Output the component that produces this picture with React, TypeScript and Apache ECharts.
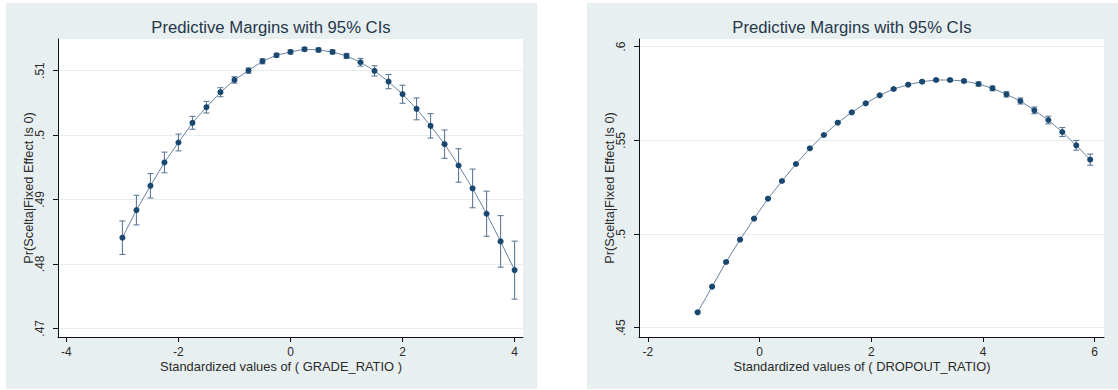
import React, { useEffect, useRef } from "react";
import * as echarts from "echarts";

// ---------- data ----------
const titleText = "Predictive Margins with 95% CIs";
const yAxisTitle = "Pr(Scelta|Fixed Effect Is 0)";
const gradeAxisTitle = "Standardized values of ( GRADE_RATIO )";
const dropAxisTitle = "Standardized values of ( DROPOUT_RATIO)";

const gradeX = [-3, -2.75, -2.5, -2.25, -2, -1.75, -1.5, -1.25, -1, -0.75, -0.5, -0.25, 0, 0.25, 0.5, 0.75, 1, 1.25, 1.5, 1.75, 2, 2.25, 2.5, 2.75, 3, 3.25, 3.5, 3.75, 4];
const gradeY = [0.48406, 0.48835, 0.49212, 0.49574, 0.49884, 0.50189, 0.50432, 0.50664, 0.50855, 0.51, 0.51145, 0.51238, 0.51289, 0.51331, 0.5132, 0.51289, 0.51227, 0.51129, 0.50995, 0.50829, 0.50633, 0.50406, 0.50142, 0.49858, 0.49527, 0.49171, 0.48778, 0.48349, 0.47903];
const gradeLo = [0.48146, 0.48605, 0.49022, 0.49414, 0.49754, 0.50089, 0.50342, 0.50594, 0.50805, 0.5096, 0.51105, 0.51208, 0.51259, 0.51301, 0.5129, 0.51259, 0.51187, 0.51069, 0.50915, 0.50719, 0.50493, 0.50236, 0.49952, 0.49638, 0.49267, 0.48871, 0.48428, 0.47949, 0.47453];
const gradeHi = [0.48666, 0.49065, 0.49402, 0.49734, 0.50014, 0.50289, 0.50522, 0.50734, 0.50905, 0.5104, 0.51185, 0.51268, 0.51319, 0.51361, 0.5135, 0.51319, 0.51267, 0.51189, 0.51075, 0.50939, 0.50773, 0.50576, 0.50332, 0.50078, 0.49787, 0.49471, 0.49128, 0.48749, 0.48353];

const dropX = [-1.11, -0.85, -0.6, -0.35, -0.1, 0.15, 0.4, 0.65, 0.9, 1.15, 1.4, 1.65, 1.9, 2.15, 2.4, 2.66, 2.91, 3.16, 3.41, 3.66, 3.92, 4.17, 4.42, 4.67, 4.92, 5.17, 5.42, 5.67, 5.92];
const dropY = [0.45819, 0.47189, 0.48505, 0.49698, 0.50819, 0.51886, 0.52829, 0.53737, 0.54573, 0.55285, 0.55943, 0.56495, 0.56975, 0.57402, 0.5774, 0.57972, 0.58132, 0.58221, 0.58221, 0.58167, 0.58007, 0.57776, 0.57456, 0.571, 0.56601, 0.56085, 0.55445, 0.54733, 0.53968];
const dropLo = [0.45759, 0.47139, 0.48455, 0.49658, 0.50779, 0.51856, 0.52799, 0.53707, 0.54543, 0.55255, 0.55913, 0.56465, 0.56935, 0.57362, 0.5769, 0.57922, 0.58072, 0.58151, 0.58141, 0.58077, 0.57897, 0.57656, 0.57316, 0.5694, 0.56421, 0.55885, 0.55205, 0.54473, 0.53668];
const dropHi = [0.45879, 0.47239, 0.48555, 0.49738, 0.50859, 0.51916, 0.52859, 0.53767, 0.54603, 0.55315, 0.55973, 0.56525, 0.57015, 0.57442, 0.5779, 0.58022, 0.58192, 0.58291, 0.58301, 0.58257, 0.58117, 0.57896, 0.57596, 0.5726, 0.56781, 0.56285, 0.55685, 0.54993, 0.54268];

const gradeXTicks = [-4, -2, 0, 2, 4];
const gradeYTicks = [0.47, 0.48, 0.49, 0.5, 0.51];
const dropXTicks = [-2, 0, 2, 4, 6];
const dropYTicks = [0.45, 0.5, 0.55, 0.6];

// ---------- styling ----------
const FONT = "'Liberation Sans', Arial, Helvetica, sans-serif";
const PANEL_BG = "#e8eff1";
const GRID_LINE = "#e6eef0";
const NAVY = "#1a476f";
const LINE_C = "#6a84a0";
const CI_C = "#5f7b98";
const TEXT_C = "#2b2b2b";
const TITLE_C = "#26374a";

const statFmt = (v: number) => String(Number(v.toFixed(2))).replace(/^0\./, ".").replace(/^-0\./, "-.");

function errorBarRender(params: any, api: any) {
  const x = api.value(0);
  const lo = api.value(1);
  const hi = api.value(2);
  const p1 = api.coord([x, hi]);
  const p2 = api.coord([x, lo]);
  const cw = 3;
  const style = { stroke: CI_C, lineWidth: 1.1, fill: "none" };
  return {
    type: "group",
    children: [
      { type: "line", shape: { x1: p1[0], y1: p1[1], x2: p2[0], y2: p2[1] }, style },
      { type: "line", shape: { x1: p1[0] - cw, y1: p1[1], x2: p1[0] + cw, y2: p1[1] }, style },
      { type: "line", shape: { x1: p2[0] - cw, y1: p2[1], x2: p2[0] + cw, y2: p2[1] }, style },
    ],
  };
}

function xAxisCfg(gridIndex: number, min: number, max: number, ticks: number[]) {
  return {
    type: "value",
    gridIndex,
    min,
    max,
    axisLine: { show: true, onZero: false, lineStyle: { color: "#111", width: 1 } },
    axisTick: { show: true, customValues: ticks, length: 5, inside: false, lineStyle: { color: "#111", width: 1 } },
    axisLabel: { show: true, customValues: ticks, margin: 9, color: TEXT_C, fontSize: 12, fontFamily: FONT, formatter: statFmt },
    splitLine: { show: false },
  };
}

function yAxisCfg(gridIndex: number, min: number, max: number, ticks: number[]) {
  return {
    type: "value",
    gridIndex,
    min,
    max,
    axisLine: { show: true, onZero: false, lineStyle: { color: "#111", width: 1 } },
    axisTick: { show: true, customValues: ticks, length: 5, inside: false, lineStyle: { color: "#111", width: 1 } },
    axisLabel: { show: true, customValues: ticks, rotate: 90, margin: 12, color: TEXT_C, fontSize: 12, fontFamily: FONT, formatter: statFmt },
    splitLine: { show: true, lineStyle: { color: GRID_LINE, width: 1 } },
  };
}

export default function App() {
  const ref = useRef<HTMLDivElement>(null);

  useEffect(() => {
    if (!ref.current) return;
    const chart = echarts.init(ref.current, null, { renderer: "svg" });

    const gradePts = gradeX.map((x, i) => [x, gradeY[i]]);
    const gradeCI = gradeX.map((x, i) => [x, gradeLo[i], gradeHi[i]]);
    const dropPts = dropX.map((x, i) => [x, dropY[i]]);
    const dropCI = dropX.map((x, i) => [x, dropLo[i], dropHi[i]]);

    const textStyle = (size: number, color: string) => ({
      font: `${size}px ${FONT}`,
      fill: color,
      textAlign: "center",
      textVerticalAlign: "middle",
      verticalAlign: "middle",
    });

    chart.setOption({
      animation: false,
      backgroundColor: "#ffffff",
      grid: [
        { left: 58, top: 39, width: 465, height: 298, show: true, backgroundColor: "#ffffff", borderWidth: 0 },
        { left: 639, top: 39, width: 465, height: 298, show: true, backgroundColor: "#ffffff", borderWidth: 0 },
      ],
      xAxis: [xAxisCfg(0, -4.15, 4.15, gradeXTicks), xAxisCfg(1, -2.16, 6.167, dropXTicks)],
      yAxis: [yAxisCfg(0, 0.46865, 0.5149, gradeYTicks), yAxisCfg(1, 0.445, 0.6041, dropYTicks)],
      graphic: [
        { type: "rect", z: -10, silent: true, shape: { x: 6, y: 3, width: 531, height: 386 }, style: { fill: PANEL_BG } },
        { type: "rect", z: -10, silent: true, shape: { x: 587, y: 3, width: 531, height: 386 }, style: { fill: PANEL_BG } },
        { type: "text", x: 271, y: 27, style: { text: titleText, ...textStyle(16.7, TITLE_C) } },
        { type: "text", x: 852, y: 27, style: { text: titleText, ...textStyle(16.7, TITLE_C) } },
        { type: "text", x: 281, y: 366, style: { text: gradeAxisTitle, ...textStyle(12.9, TEXT_C) } },
        { type: "text", x: 862, y: 366, style: { text: dropAxisTitle, ...textStyle(12.9, TEXT_C) } },
        { type: "text", x: 28.5, y: 188, rotation: Math.PI / 2, style: { text: yAxisTitle, ...textStyle(12.8, TEXT_C) } },
        { type: "text", x: 609, y: 188, rotation: Math.PI / 2, style: { text: yAxisTitle, ...textStyle(12.8, TEXT_C) } },
      ],
      series: [
        {
          type: "custom", xAxisIndex: 0, yAxisIndex: 0, z: 2, silent: true,
          renderItem: errorBarRender, encode: { x: 0, y: [1, 2] }, data: gradeCI,
        },
        {
          type: "line", xAxisIndex: 0, yAxisIndex: 0, z: 3, silent: true,
          data: gradePts, symbol: "circle", symbolSize: 6, showSymbol: true,
          itemStyle: { color: NAVY }, lineStyle: { color: LINE_C, width: 1 },
        },
        {
          type: "custom", xAxisIndex: 1, yAxisIndex: 1, z: 2, silent: true,
          renderItem: errorBarRender, encode: { x: 0, y: [1, 2] }, data: dropCI,
        },
        {
          type: "line", xAxisIndex: 1, yAxisIndex: 1, z: 3, silent: true,
          data: dropPts, symbol: "circle", symbolSize: 6, showSymbol: true,
          itemStyle: { color: NAVY }, lineStyle: { color: LINE_C, width: 1 },
        },
      ],
    });

    return () => chart.dispose();
  }, []);

  return (
    <div
      ref={ref}
      style={{ position: "fixed", left: 0, top: 0, width: 1118, height: 390 }}
    />
  );
}
